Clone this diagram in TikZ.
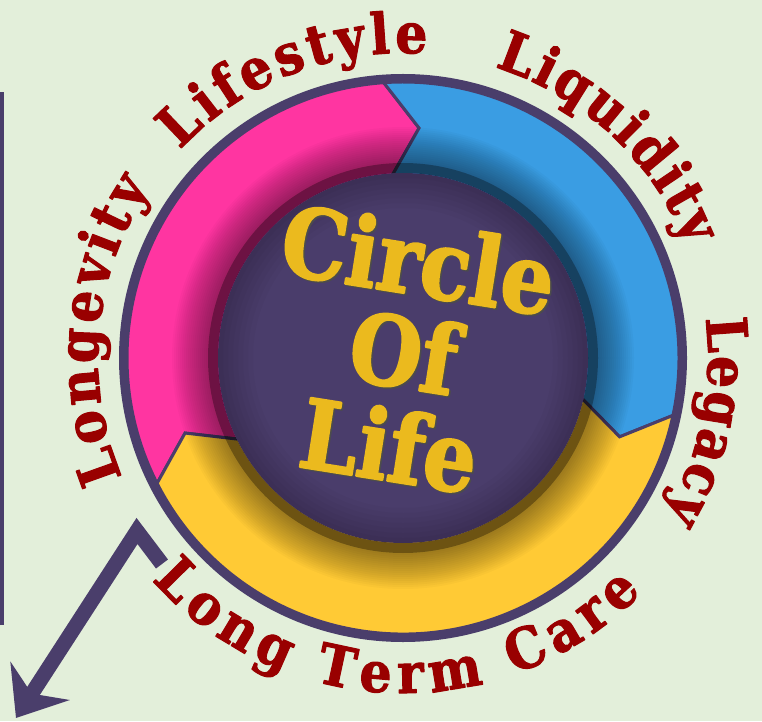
\documentclass[tikz,border=0pt]{standalone}
\usepackage{fontspec}
\newfontfamily\labelfont[BoldFeatures={FakeStretch=0.9,FakeBold=1.8}]{DejaVu Serif}
\newfontfamily\titlefont[BoldFeatures={FakeStretch=0.86,FakeBold=2.2}]{DejaVu Serif}
\usetikzlibrary{arrows.meta,decorations.text}

\definecolor{bgcol}{HTML}{E3EFDA}
\definecolor{ringpurple}{HTML}{4A3E6B}
\definecolor{segpink}{HTML}{FF35A1}
\definecolor{segblue}{HTML}{3A9DE3}
\definecolor{segyellow}{HTML}{FFCA35}
\definecolor{diskmid}{HTML}{4A3D6B}
\definecolor{labelred}{HTML}{990000}
\definecolor{titleyellow}{HTML}{EBBA1E}

\begin{document}
\begin{tikzpicture}[x=1pt,y=1pt,line cap=round,line join=round,
    seg/.style={draw=ringpurple,line width=3pt,line join=miter},
    rimshade/.style={fill=black,opacity=#1,even odd rule},
    arclabel/.style={decorate,decoration={text along path,text align={fit to path},
        text={|\labelfont\bfseries\fontsize{56}{60}\selectfont\color{labelred}|#1}}}]
    \useasboundingbox (0,0) rectangle (762,721);
    \fill [bgcol] (0,0) rectangle (762,721);
    % side bar and arrow
    \draw [ringpurple,line width=4pt,line cap=butt] (2,96) -- (2,629);
    \coordinate (arrstart) at (162,157);
    \coordinate (arrbend) at (137,190);
    \coordinate (arrtip) at (16,3);
    \draw [ringpurple,line width=15pt,line cap=butt,line join=miter,-{Stealth[length=44pt,width=70pt,inset=15pt]}] (arrstart) -- (arrbend) -- (arrtip);
    \begin{scope}[shift={(403,363)}]
        % the three segments of the band
        \draw [seg,fill=segpink] (207:276pt) arc[start angle=207,end angle=94,radius=276pt] -- (86:230.5pt) -- (94:180pt) arc[start angle=94,end angle=207,radius=180pt] -- (199:230.5pt) -- cycle;
        \draw [seg,fill=segblue] (94:276pt) arc[start angle=94,end angle=-12,radius=276pt] -- (-20:230.5pt) -- (-12:180pt) arc[start angle=-12,end angle=94,radius=180pt] -- (86:230.5pt) -- cycle;
        \draw [seg,fill=segyellow] (348:276pt) arc[start angle=348,end angle=207,radius=276pt] -- (199:230.5pt) -- (207:180pt) arc[start angle=207,end angle=348,radius=180pt] -- (340:230.5pt) -- cycle;
        % shadow on the inner rim of the band
        \fill [rimshade=.3] (0,0) circle (195pt) circle (185pt);
        \foreach \r in {197,199,...,231}
            \fill [rimshade=.022] (0,0) circle (\r pt) circle (185pt);
        % middle disk, darker towards its edge
        \fill [diskmid] (0,0) circle (185pt);
        \foreach \r in {150,155,...,180}
            \fill [rimshade=.025] (0,0) circle (185pt) circle (\r pt);
        \draw [ringpurple,line width=8pt] (0,0) circle (280pt);
        % labels round the ring
        \path [arclabel=Longevity] (203:305pt) arc[start angle=203,end angle=146,radius=305pt];
        \path [arclabel=Lifestyle] (137:305pt) arc[start angle=137,end angle=85.5,radius=305pt];
        \path [arclabel=Liquidity] (72.5:305pt) arc[start angle=72.5,end angle=21.5,radius=305pt];
        \path [arclabel=Legacy] (7.5:305pt) arc[start angle=7.5,end angle=-31,radius=305pt];
        \path [arclabel={Long Term Care}] (221.5:335pt) arc[start angle=221.5,end angle=315.5,radius=335pt];
    \end{scope}
    \node [rotate=-9,align=center,text=black!70,font=\titlefont\bfseries\fontsize{96}{94}\selectfont] (titleshadow) at (405.5,367.5) {Circle\\Of\\Life};
    \node [rotate=-9,align=center,text=titleyellow,font=\titlefont\bfseries\fontsize{96}{94}\selectfont] (title) at (404,369) {Circle\\Of\\Life};
\end{tikzpicture}
\end{document}
